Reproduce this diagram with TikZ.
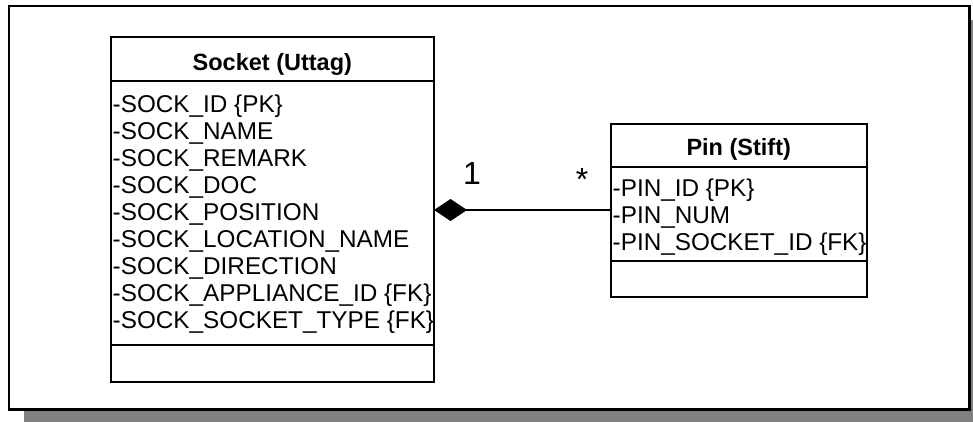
\documentclass[tikz,border=0pt]{standalone}
\usepackage{fontspec}
\setmainfont{Liberation Sans}
\usetikzlibrary{arrows.meta}
\definecolor{shadowgray}{HTML}{808080}
\begin{document}
\begin{tikzpicture}[x=1pt,y=-1pt,
  classbox/.style={draw,line width=1.6pt,inner sep=0pt,outer sep=0pt},
  sep/.style={line width=1.6pt},
  attr/.style={anchor=base west,inner sep=0pt,font=\fontsize{24.3}{28}\selectfont},
  hdr/.style={anchor=base,inner sep=0pt,font=\fontsize{23.5}{28}\selectfont\bfseries},
  mult/.style={anchor=base,inner sep=0pt,font=\fontsize{32}{36}\selectfont},
  comp/.style={line width=1.6pt,{Diamond[length=33pt,width=22pt]}-}]
\useasboundingbox (0,0) rectangle (973,422);
% frame with shadow
\fill[shadowgray] (24,20) rectangle (973,422);
\filldraw[fill=white,line width=2pt] (8.5,6) rectangle (969.5,409.5);
\draw[line width=3pt] (969.5,6) -- (969.5,409.5) -- (8.5,409.5);
% Socket class
\node[classbox,minimum width=323.3pt,minimum height=345pt] (sock) at (272.35,209.5) {};
\draw[sep] (sock.west |- 0,81) -- (sock.east |- 0,81);
\draw[sep] (sock.west |- 0,345) -- (sock.east |- 0,345);
\node[hdr] (sockh) at (272.35,70.5) {Socket (Uttag)};
\node[attr] (s1) at (112.5,112.7) {-SOCK\_ID \{PK\}};
\node[attr] (s2) at (112.5,139.7) {-SOCK\_NAME};
\node[attr] (s3) at (112.5,166.7) {-SOCK\_REMARK};
\node[attr] (s4) at (112.5,193.7) {-SOCK\_DOC};
\node[attr] (s5) at (112.5,220.7) {-SOCK\_POSITION};
\node[attr] (s6) at (112.5,247.7) {-SOCK\_LOCATION\_NAME};
\node[attr] (s7) at (112.5,274.7) {-SOCK\_DIRECTION};
\node[attr] (s8) at (112.5,301.7) {-SOCK\_APPLIANCE\_ID \{FK\}};
\node[attr] (s9) at (112.5,328.7) {-SOCK\_SOCKET\_TYPE \{FK\}};
% Pin class
\node[classbox,minimum width=256pt,minimum height=173pt] (pin) at (738.7,210.5) {};
\draw[sep] (pin.west |- 0,167) -- (pin.east |- 0,167);
\draw[sep] (pin.west |- 0,261) -- (pin.east |- 0,261);
\node[hdr] (pinh) at (738.7,155.5) {Pin (Stift)};
\node[attr] (p1) at (612.5,196.7) {-PIN\_ID \{PK\}};
\node[attr] (p2) at (612.5,223.7) {-PIN\_NUM};
\node[attr] (p3) at (612.5,250.7) {-PIN\_SOCKET\_ID \{FK\}};
% composition
\draw[comp] (sock.east |- 0,210) -- (pin.west |- 0,210);
\node[mult] (m1) at (472,184.5) {1};
\node[mult] (m2) at (582,190) {*};
\end{tikzpicture}
\end{document}
